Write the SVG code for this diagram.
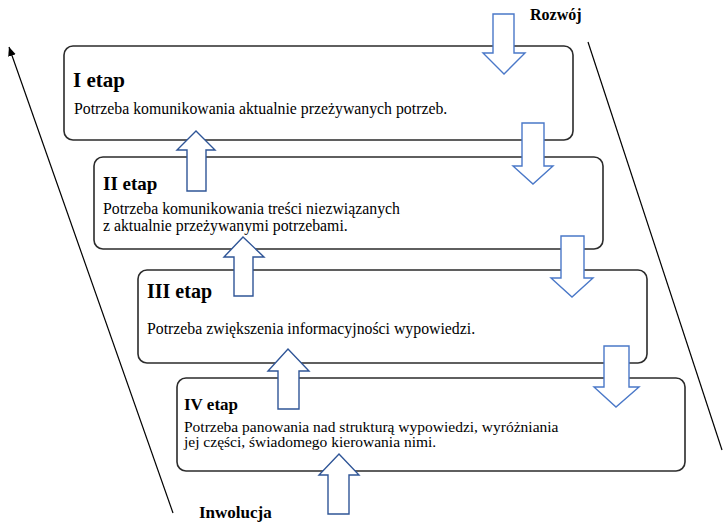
<svg xmlns="http://www.w3.org/2000/svg" width="723" height="524" viewBox="0 0 723 524">
<defs>
<style>
.box{fill:#fff;stroke:#2b2b2b;stroke-width:1.6}
.dn{fill:#fff;stroke:#4a78c8;stroke-width:1.4}
.up{fill:#fff;stroke:#2f5597;stroke-width:1.4}
.ln{stroke:#000;stroke-width:1.2;fill:none}
</style>
<marker id="ah" markerWidth="10" markerHeight="10" refX="9" refY="5" orient="auto" markerUnits="userSpaceOnUse">
<path d="M0,1 L9,5 L0,9 Z" fill="#000"/>
</marker>
</defs>
<rect width="723" height="524" fill="#fff"/>
<g id="connectors">
<line class="ln" x1="173" y1="513" x2="9" y2="47" marker-end="url(#ah)"/>
<line class="ln" x1="588" y1="42" x2="722" y2="450"/>
</g>
<g id="box1">
<rect class="box" x="64" y="46" width="509" height="94" rx="9"/>
<text x="73" y="87" font-family="Liberation Serif" font-weight="bold" font-size="21">I etap</text>
<text x="74" y="114" font-family="Liberation Serif" font-size="15.8">Potrzeba komunikowania aktualnie przeżywanych potrzeb.</text>
</g>
<g id="box2">
<rect class="box" x="94" y="157" width="509" height="92" rx="9"/>
<text x="103" y="190" font-family="Liberation Serif" font-weight="bold" font-size="19">II etap</text>
<text x="103" y="214" font-family="Liberation Serif" font-size="15.8">Potrzeba komunikowania treści niezwiązanych</text>
<text x="103" y="231" font-family="Liberation Serif" font-size="15.8">z aktualnie przeżywanymi potrzebami.</text>
</g>
<g id="box3">
<rect class="box" x="138" y="270" width="509" height="93" rx="9"/>
<text x="147" y="298" font-family="Liberation Serif" font-weight="bold" font-size="20">III etap</text>
<text x="147" y="334" font-family="Liberation Serif" font-size="15.8">Potrzeba zwiększenia informacyjności wypowiedzi.</text>
</g>
<g id="box4">
<rect class="box" x="177" y="378" width="508" height="93" rx="9"/>
<text x="184" y="410" font-family="Liberation Serif" font-weight="bold" font-size="17">IV etap</text>
<text x="184" y="432" font-family="Liberation Serif" font-size="15.5">Potrzeba panowania nad strukturą wypowiedzi, wyróżniania</text>
<text x="184" y="447" font-family="Liberation Serif" font-size="15.5">jej części, świadomego kierowania nimi.</text>
</g>
<g id="labels">
<text x="530" y="20" font-family="Liberation Serif" font-weight="bold" font-size="16">Rozwój</text>
<text x="199" y="518" font-family="Liberation Serif" font-weight="bold" font-size="17">Inwolucja</text>
</g>
<g id="arrows">
<path class="dn" d="M493,14 H514 V53 H525 L504,74 L483,53 H493 Z"/>
<path class="dn" d="M522,123 H544 V166 H553 L533,184 L513,166 H522 Z"/>
<path class="dn" d="M561,236 H584 V278 H593 L572,297 L551,278 H561 Z"/>
<path class="dn" d="M604,346 H629 V387 H639 L616,407 L594,387 H604 Z"/>
<path class="up" d="M187,191 V150 H177 L196,131 L215,150 H206 V191 Z"/>
<path class="up" d="M234,296 V257 H224 L243,237 L264,257 H253 V296 Z"/>
<path class="up" d="M278,409 V371 H268 L288,349 L309,371 H299 V409 Z"/>
<path class="up" d="M328,514 V475 H319 L339,454 L359,475 H349 V514 Z"/>
</g>
</svg>
